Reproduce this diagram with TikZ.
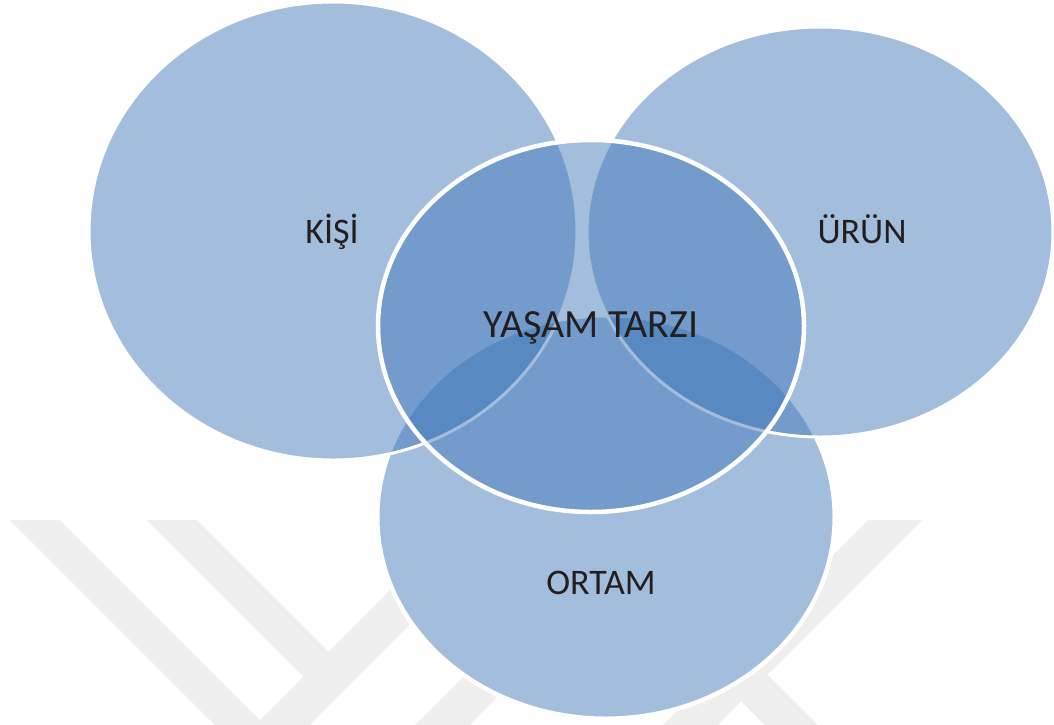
\documentclass[tikz,border=0pt]{standalone}
\usepackage{fontspec}
\setmainfont{Carlito}
\definecolor{vennblue}{RGB}{61,117,183}
\definecolor{txt}{RGB}{35,31,32}
\definecolor{wmgray}{RGB}{238,238,238}
\begin{document}
\begin{tikzpicture}[x=1pt,y=-1pt,
  wm/.style={fill=wmgray, draw=none},
  maskell/.style={fill=white, draw=white, line width=6pt},
  venn/.style={fill=vennblue, fill opacity=0.47, draw=white, draw opacity=1, line width=3pt},
  centre/.style={fill=vennblue, fill opacity=0.47, draw=white, draw opacity=1, line width=4.5pt},
  lbl/.style={font=\fontsize{36}{43}\selectfont, text=txt, inner sep=0pt, anchor=base},
  biglbl/.style={font=\fontsize{40}{48}\selectfont, text=txt, inner sep=0pt, anchor=base}]
\useasboundingbox (0,0) rectangle (1054,724);
\fill[white] (0,0) rectangle (1054,724);
% watermark bands
\fill[wm] (10,520) -- (60,520) -- (260,720) -- (235,745) -- cycle;
\fill[wm] (147,520) -- (197,520) -- (328.5,651.5) -- (303.5,676.5) -- cycle;
\fill[wm] (220,760) -- (274,760) -- (554,480) -- (500,480) -- cycle;
\fill[wm] (380,760) -- (434,760) -- (694,500) -- (640,500) -- cycle;
\fill[wm] (868,520) -- (922,520) -- (682,760) -- (628,760) -- cycle;
\fill[wm] (741,701) -- (767.5,674.5) -- (853,760) -- (800,760) -- cycle;
% centres
\coordinate (cO) at (606,517);
\coordinate (cK) at (333,231);
\coordinate (cU) at (820,232);
\coordinate (cY) at (591,326);
% white masks under the translucent ellipses
\path[maskell] (cO) ellipse [x radius=228pt, y radius=201pt];
\path[maskell] (cK) ellipse [x radius=244pt, y radius=229pt];
\path[maskell] (cU) ellipse [x radius=233pt, y radius=205pt];
% ellipses
\path[venn] (cO) ellipse [x radius=228pt, y radius=201pt];
\path[venn] (cK) ellipse [x radius=244pt, y radius=229pt];
\path[venn] (cU) ellipse [x radius=233pt, y radius=205pt];
\path[centre] (cY) ellipse [x radius=213pt, y radius=186pt];
% labels
\node[lbl] (kisi) at (332,243) {KİŞİ};
\node[lbl] (urun) at (862,243) {ÜRÜN};
\node[lbl] (ortam) at (601,594) {ORTAM};
\node[biglbl] (yasam) at (591,337) {YAŞAM TARZI};
\end{tikzpicture}
\end{document}
